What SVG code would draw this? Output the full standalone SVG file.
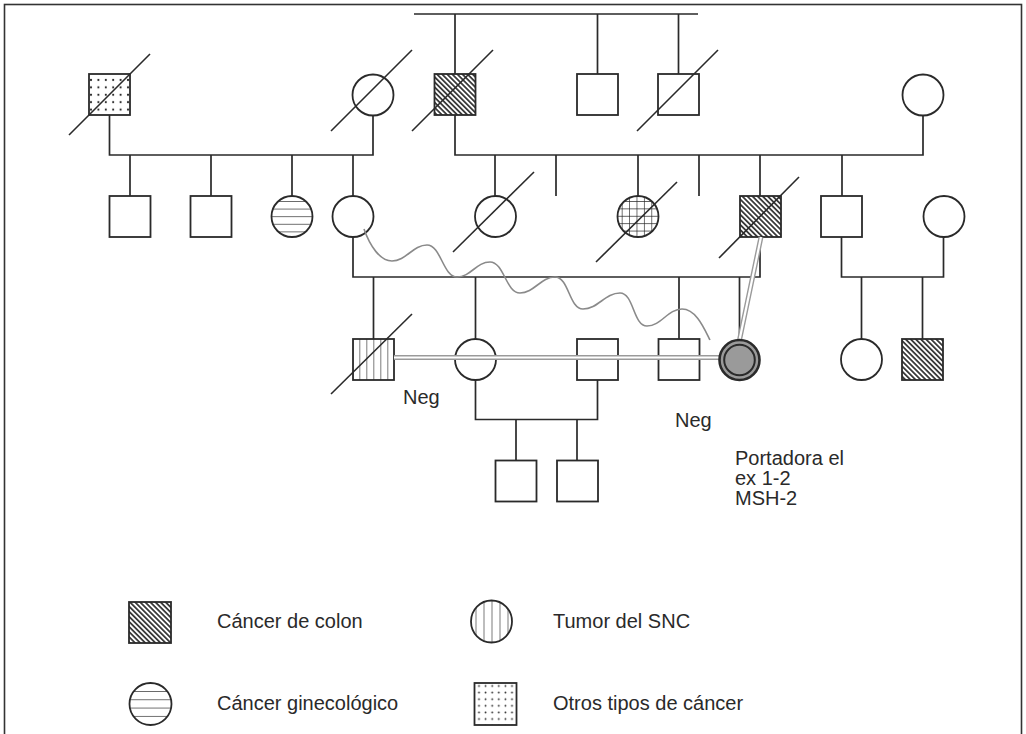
<svg xmlns="http://www.w3.org/2000/svg" width="1026" height="734" viewBox="0 0 1026 734">
<style>
  .ln{stroke:#2a2a2a;stroke-width:1.7;fill:none}
  .nd{stroke:#2a2a2a;stroke-width:1.8;fill:#fff}
  .f-hatch{fill:url(#hatch)}
  .f-dots1{fill:url(#dots1)}
  .f-dots2{fill:url(#dots2)}
  .f-grid{fill:url(#grid)}
  .f-h1{fill:url(#hstr1)}
  .f-h2{fill:url(#hstr2)}
  .f-v1{fill:url(#vstr1)}
  .f-v2{fill:url(#vstr2)}
  .sl{stroke:#2a2a2a;stroke-width:1.6;fill:none}
  .dbl-o{stroke:#9a9a9a;stroke-width:5;fill:none}
  .dbl-i{stroke:#fff;stroke-width:2.2;fill:none}
  .wave{stroke:#8a8a8a;stroke-width:1.6;fill:none}
  text{font-family:"Liberation Sans",Arial,sans-serif;font-size:20px;fill:#2a2a2a}
</style>
<defs>
  <pattern id="hatch" patternUnits="userSpaceOnUse" width="3.6" height="3.6" patternTransform="rotate(-45)">
    <rect width="3.6" height="3.6" fill="#fff"/>
    <line x1="0.9" y1="0" x2="0.9" y2="3.6" stroke="#222" stroke-width="1.6"/>
  </pattern>
  <pattern id="dots1" patternUnits="userSpaceOnUse" x="87.3" y="76.3" width="7.4" height="7.4">
    <rect width="7.4" height="7.4" fill="#fff"/>
    <circle cx="3.7" cy="3.7" r="1.05" fill="#222"/>
  </pattern>
  <pattern id="dots2" patternUnits="userSpaceOnUse" x="475.7" y="682.7" width="6.6" height="6.6">
    <rect width="6.6" height="6.6" fill="#fff"/>
    <circle cx="3.3" cy="3.3" r="0.9" fill="#222"/>
  </pattern>
  <pattern id="grid" patternUnits="userSpaceOnUse" x="621.7" y="201" width="7.4" height="7.4">
    <rect width="7.4" height="7.4" fill="#fff"/>
    <path d="M0,0 V7.4 M0,0 H7.4" stroke="#222" stroke-width="1.3"/>
  </pattern>
  <pattern id="hstr1" patternUnits="userSpaceOnUse" x="0" y="201" width="10" height="7.6">
    <rect width="10" height="7.6" fill="#fff"/>
    <line x1="0" y1="0" x2="10" y2="0" stroke="#222" stroke-width="1.3"/>
  </pattern>
  <pattern id="hstr2" patternUnits="userSpaceOnUse" x="0" y="691" width="10" height="8.3">
    <rect width="10" height="8.3" fill="#fff"/>
    <line x1="0" y1="0" x2="10" y2="0" stroke="#222" stroke-width="1.3"/>
  </pattern>
  <pattern id="vstr1" patternUnits="userSpaceOnUse" x="359.3" y="0" width="7" height="10">
    <rect width="7" height="10" fill="#fff"/>
    <line x1="0" y1="0" x2="0" y2="10" stroke="#222" stroke-width="1.2"/>
  </pattern>
  <pattern id="vstr2" patternUnits="userSpaceOnUse" x="475.5" y="0" width="8" height="10">
    <rect width="8" height="10" fill="#fff"/>
    <line x1="0" y1="0" x2="0" y2="10" stroke="#222" stroke-width="1.2"/>
  </pattern>
</defs>

<rect x="4.5" y="4.5" width="1017" height="760" fill="#fff" stroke="#333" stroke-width="1.6"/>

<g id="connectors">
  <path class="ln" d="M414,14 H698 M455,14 V74 M597.5,14 V74 M678.5,14 V74"/>
  <path class="ln" d="M109.5,115 V155 H373 V115"/>
  <path class="ln" d="M130,155 V196 M211,155 V196 M292,155 V196 M353,155 V196"/>
  <path class="ln" d="M455,115 V155 H923 V115"/>
  <path class="ln" d="M495,155 V196 M556,155 V196 M638,155 V196 M699,155 V196 M760,155 V196 M842,155 V196"/>
  <path class="ln" d="M353,237 V277 H760 V237"/>
  <path class="ln" d="M373.5,277 V339 M475.5,277 V339 M679,277 V339 M739.5,277 V340"/>
  <path class="ln" d="M841.5,237 V277 H943.5 V237"/>
  <path class="ln" d="M861.5,277 V339 M922.5,277 V339"/>
  <path class="ln" d="M475.5,380 V419.5 H597.5 V380"/>
  <path class="ln" d="M516,419.5 V460.5 M577,419.5 V460.5"/>
</g>

<g id="n-gf"><rect class="nd f-dots1" x="89" y="74" width="41" height="41"/><line class="sl" x1="69" y1="135" x2="150" y2="54"/></g>
<g id="n-gm"><circle class="nd" cx="373" cy="95" r="20.5"/><line class="sl" x1="331" y1="131" x2="412" y2="50"/></g>
<g id="n-gf2"><rect class="nd f-hatch" x="434.5" y="74" width="41" height="41"/><line class="sl" x1="412" y1="131" x2="493" y2="50"/></g>
<g id="n-gu1"><rect class="nd" x="577" y="74" width="41" height="41"/></g>
<g id="n-gu2"><rect class="nd" x="658" y="74" width="41" height="41"/><line class="sl" x1="637" y1="131" x2="718" y2="50"/></g>
<g id="n-gm2"><ellipse class="nd" cx="923" cy="95" rx="20.5" ry="20.5"/></g>

<g id="n-b1"><rect class="nd" x="109.5" y="196" width="41" height="41"/></g>
<g id="n-b2"><rect class="nd" x="190.5" y="196" width="41" height="41"/></g>
<g id="n-s1"><circle class="nd f-h1" cx="292" cy="216.5" r="20.5"/></g>
<g id="n-mother"><circle class="nd" cx="353" cy="216.5" r="20.5"/></g>
<g id="n-a1"><circle class="nd" cx="495.5" cy="216.5" r="20.5"/><line class="sl" x1="453" y1="252" x2="534" y2="172"/></g>
<g id="n-a2"><circle class="nd f-grid" cx="638" cy="216.5" r="20.5"/><line class="sl" x1="596" y1="262" x2="677" y2="182"/></g>
<g id="n-father"><rect class="nd f-hatch" x="740" y="196" width="41" height="41"/><line class="sl" x1="719" y1="258" x2="799" y2="177"/></g>
<g id="n-u3"><rect class="nd" x="821" y="196" width="41" height="41"/></g>
<g id="n-w3"><circle class="nd" cx="944" cy="216.5" r="20.5"/></g>

<g id="n-c1"><rect class="nd f-v1" x="353" y="339" width="41" height="41"/><line class="sl" x1="331" y1="394" x2="412" y2="314"/></g>
<g id="n-c2"><circle class="nd" cx="475.5" cy="359.5" r="20.5"/></g>
<g id="n-c2h"><rect class="nd" x="577" y="339" width="41" height="41"/></g>
<g id="n-c3"><rect class="nd" x="658.5" y="339" width="41" height="41"/></g>
<g id="n-c5"><circle class="nd" cx="861.5" cy="359.5" r="20.5"/></g>
<g id="n-c6"><rect class="nd f-hatch" x="902" y="339" width="41" height="41"/></g>

<g id="n-g1"><rect class="nd" x="495.5" y="460.5" width="41" height="41"/></g>
<g id="n-g2"><rect class="nd" x="557" y="460.5" width="41" height="41"/></g>

<g id="relations">
  <path class="wave" d="M364,229 C370,246 380,261 392,261 C406,261 413,245 427,245 C441,245 443,277 457,277 C471,277 476,262 490,262 C504,262 506,293 520,293 C534,293 541,277 555,277 C569,277 569,309 583,309 C598,309 605,293 620,293 C634,293 633,326 647,326 C661,326 668,309 682,309 C696,309 704,328 710,340"/>
  <path class="dbl-o" d="M394,357.5 H720 M739.5,340 L761,237"/>
  <path class="dbl-i" d="M394,357.5 H720 M739.5,340 L761,237"/>
</g>

<g id="n-proband">
  <circle cx="739.5" cy="360" r="20" fill="#9a9a9a" stroke="#2a2a2a" stroke-width="2.6"/>
  <circle cx="739.5" cy="360" r="15.3" fill="#9a9a9a" stroke="#2a2a2a" stroke-width="2"/>
</g>

<g id="labels">
  <text x="403" y="404">Neg</text>
  <text x="675" y="427">Neg</text>
  <text x="735" y="465">Portadora el</text>
  <text x="735" y="485">ex 1-2</text>
  <text x="735" y="505">MSH-2</text>
</g>

<g id="legend">
  <g id="lg-colon"><rect class="nd f-hatch" x="129" y="602" width="42" height="41"/><text x="217" y="628">Cáncer de colon</text></g>
  <g id="lg-snc"><ellipse class="nd f-v2" cx="491.5" cy="621.5" rx="20.5" ry="21"/><text x="553" y="628">Tumor del SNC</text></g>
  <g id="lg-gyn"><circle class="nd f-h2" cx="150.5" cy="704" r="21"/><text x="217" y="710">Cáncer ginecológico</text></g>
  <g id="lg-other"><rect class="nd f-dots2" x="474.5" y="683" width="42" height="42"/><text x="553" y="710">Otros tipos de cáncer</text></g>
</g>
</svg>
